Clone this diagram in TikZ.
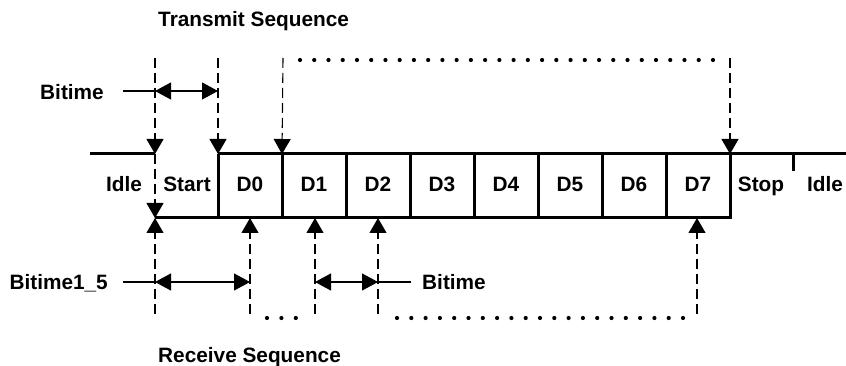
\documentclass[tikz,border=0pt]{standalone}
\usepackage{fontspec}
\setmainfont{Liberation Sans}
\usetikzlibrary{arrows.meta}
\begin{document}
\begin{tikzpicture}[x=1pt,y=-1pt,
  sig/.style={line width=3pt, line join=miter},
  guide/.style={line width=1.1pt, dash pattern=on 10pt off 5pt},
  thin/.style={line width=1.1pt},
  tipend/.style={-{Triangle[length=15pt,width=17pt]}},
  tipboth/.style={{Triangle[length=16pt,width=17pt]}-{Triangle[length=16pt,width=17pt]}},
  lbl/.style={font=\fontsize{20.8}{24}\selectfont\bfseries, inner sep=0pt},
  dot/.style={circle, fill=black, inner sep=0pt, minimum size=4.2pt},
]
\useasboundingbox (0,0) rectangle (846,366);

% signal levels
\coordinate (hiL) at (90,154);
\coordinate (fall) at (155,154);
\coordinate (low) at (155,218);
\coordinate (riseB) at (218,218);
\coordinate (riseT) at (218,154);
\coordinate (stopB) at (730,218);
\coordinate (stopT) at (730,154);
\coordinate (hiR) at (846,154);
\coordinate (tickT) at (793,154);
\coordinate (tickB) at (793,171);

\draw[sig] (hiL) -- (fall);
\draw[sig] (riseT) -- (hiR);
\draw[sig] (low) -- (stopB) -- (stopT);
\draw[sig] (riseB) -- (riseT);
\foreach \k in {1,...,7} \draw[sig] (218+64*\k,218) -- (218+64*\k,154);
\draw[sig] (tickT) -- (tickB);

% bit cell labels
\node[lbl, anchor=base] (idle1) at (124,192) {Idle};
\node[lbl, anchor=base] (start) at (187,192) {Start};
\foreach \k in {0,...,7} \node[lbl, anchor=base] (d\k) at (250+64*\k,192) {D\k};
\node[lbl, anchor=base] (stop) at (761,192) {Stop};
\node[lbl, anchor=base] (idle2) at (825,192) {Idle};

% transmit sequence
\node[lbl, anchor=base west] (tx) at (158,27) {Transmit Sequence};
\coordinate (t0) at (155,58);
\coordinate (t1) at (218,58);
\coordinate (t2) at (283,58);
\coordinate (t3) at (730,58);
\draw[guide, tipend] (t0) -- (fall);
\draw[guide, tipend] (fall) -- (low);
\draw[guide, tipend] (t1) -- (riseT);
\draw[guide, tipend] (t2) -- (282,154);
\draw[guide, tipend] (t3) -- (stopT);
\foreach \i in {0,...,29} \node[dot] (td\i) at (300+14.24*\i,60) {};

\node[lbl, anchor=base east] (bt1) at (104,99.5) {Bitime};
\coordinate (bt1a) at (123,91);
\coordinate (bt1b) at (155,91);
\coordinate (bt1c) at (218,91);
\draw[thin] (bt1a) -- (bt1b);
\draw[thin, tipboth] (bt1b) -- (bt1c);

% receive sequence
\node[lbl, anchor=base west] (rx) at (158,362) {Receive Sequence};
\coordinate (r0) at (155,314);
\coordinate (r1) at (250,314);
\coordinate (r2) at (315,314);
\coordinate (r3) at (378,314);
\coordinate (r4) at (697,314);
\draw[guide, tipend] (r0) -- (low);
\draw[guide, tipend] (r1) -- (250,218);
\draw[guide, tipend] (r2) -- (315,218);
\draw[guide, tipend] (r3) -- (378,218);
\draw[guide, tipend] (r4) -- (697,218);
\foreach \i in {0,1,2} \node[dot] (rd\i) at (267+14.4*\i,318) {};
\foreach \i in {0,...,20} \node[dot] (re\i) at (397+14.3*\i,318) {};

\node[lbl, anchor=base east] (bt15) at (108,289.5) {Bitime1\_5};
\coordinate (b15a) at (123,282);
\coordinate (b15b) at (155,282);
\coordinate (b15c) at (250,282);
\draw[thin] (b15a) -- (b15b);
\draw[thin, tipboth] (b15b) -- (b15c);

\node[lbl, anchor=base west] (bt2) at (422,289.5) {Bitime};
\coordinate (bt2a) at (315,282);
\coordinate (bt2b) at (378,282);
\coordinate (bt2c) at (411,282);
\draw[thin, tipboth] (bt2a) -- (bt2b);
\draw[thin] (bt2b) -- (bt2c);
\end{tikzpicture}
\end{document}
